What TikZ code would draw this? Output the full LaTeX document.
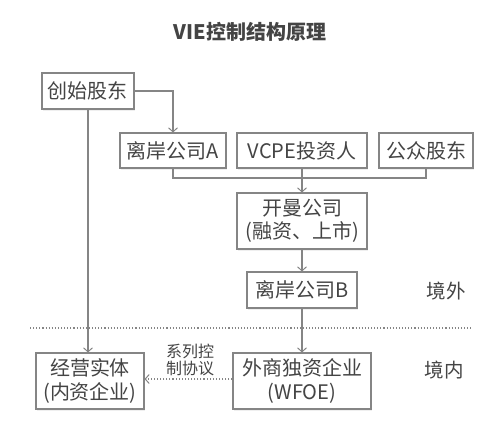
\documentclass[tikz,border=0pt]{standalone}
\usepackage{fontspec}
\setmainfont{Noto Sans CJK SC}
\usetikzlibrary{arrows.meta,shadows}
\definecolor{txt}{HTML}{444444}
\definecolor{edge}{HTML}{858585}
\tikzset{
  box/.style={draw=edge, line width=1.1pt, fill=white, text=txt, inner sep=0pt,
    align=center, font=\fontsize{20}{23.5}\selectfont,
    drop shadow={shadow xshift=1.2pt, shadow yshift=-1.5pt, fill=black!12}},
  conn/.style={draw=edge, line width=1.1pt},
  arr/.style={conn, -{Straight Barb[length=4pt,width=9pt,line width=1pt]}},
  side/.style={text=txt, font=\fontsize{19.5}{23}\selectfont},
}
\begin{document}
\begin{tikzpicture}[x=1pt,y=-1pt]
\useasboundingbox (0,0) rectangle (499,431);
\node[text=txt, font=\fontsize{20}{24}\selectfont\bfseries] (title) at (250,32) {VIE控制结构原理};
\node[box, minimum width=92pt, minimum height=36pt] (founder) at (88,91) {创始股东};
\node[box, minimum width=106pt, minimum height=35pt] (a) at (173,150.5) {离岸公司A};
\node[box, minimum width=130pt, minimum height=35pt] (vcpe) at (302,150.5) {VCPE投资人};
\node[box, minimum width=94pt, minimum height=35pt] (pub) at (426,150.5) {公众股东};
\node[box, minimum width=130pt, minimum height=56pt] (cayman) at (302,221) {开曼公司\\(融资、上市)};
\node[box, minimum width=110pt, minimum height=36pt] (b) at (302,290) {离岸公司B};
\node[box, minimum width=138pt, minimum height=56pt] (wfoe) at (302,381) {外商独资企业\\(WFOE)};
\node[box, minimum width=108pt, minimum height=56pt] (opco) at (90,381) {经营实体\\(内资企业)};
\node[side] (out) at (446,291) {境外};
\node[side] (in) at (444,370) {境内};
\node[text=txt, align=center, font=\fontsize{16}{17}\selectfont] (agr) at (190,360) {系列控\\制协议};
\coordinate (dl) at (30,328);
\coordinate (dr) at (473,328);
\coordinate (join) at (302,178);
\draw[edge, line width=1.1pt, dotted] (dl) -- (dr);
\draw[arr] (founder.east) -| (a.north);
\draw[arr] (founder.south) -- (founder.south |- opco.north);
\draw[conn] (a.south) |- (join);
\draw[conn] (pub.south) |- (join);
\draw[conn] (vcpe.south) -- (join);
\draw[arr] (join) -- (cayman.north);
\draw[arr] (cayman.south) -- (b.north);
\draw[arr] (b.south) -- (wfoe.north);
\draw[conn, dotted, -{Straight Barb[length=4pt,width=9pt,line width=1pt]}] ([yshift=2pt]wfoe.west) -- ([yshift=2pt]wfoe.west -| opco.east);
\end{tikzpicture}
\end{document}
